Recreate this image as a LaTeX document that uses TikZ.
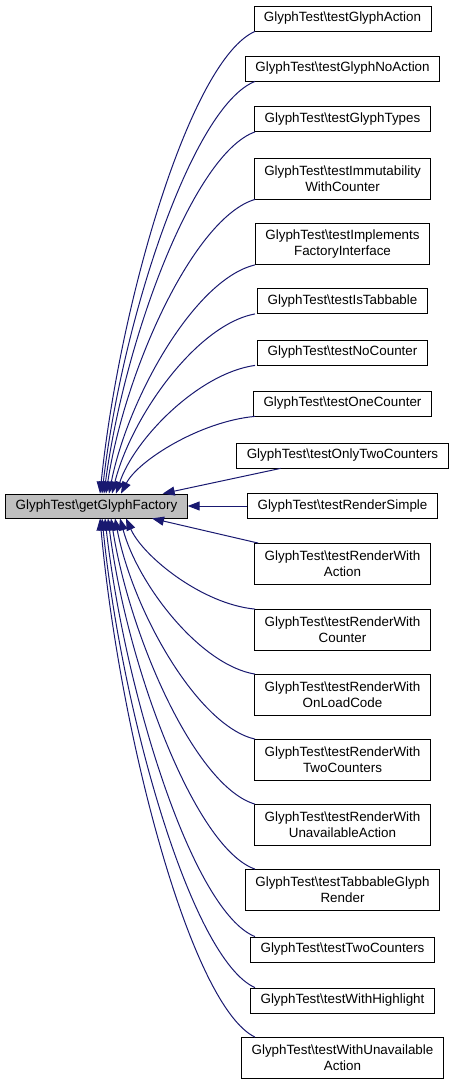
\documentclass[tikz,border=0pt]{standalone}
\usepackage{fontspec}
\setmainfont{Liberation Sans}
\usepackage{tikz}
\usetikzlibrary{arrows.meta,calc}
\definecolor{callerline}{RGB}{25,25,112}
\definecolor{focusfill}{RGB}{191,191,191}

\begin{document}
\begin{tikzpicture}[x=1pt,y=1pt,
    fn/.style={draw=black,fill=white,line width=0.8pt,inner xsep=10pt,inner ysep=0pt,
      minimum height=25pt,align=center,font=\fontsize{13.4}{16}\selectfont},
    fntwo/.style={fn,minimum height=41pt},
    focus/.style={fn,fill=focusfill,minimum height=24pt},
    call/.style={callerline,line width=1pt,-{Triangle[length=12pt,width=9pt]}}]
    \useasboundingbox (0,0) rectangle (455,-1085);
    % Called function
    \node[focus] (main) at (96.5,-506) {GlyphTest\textbackslash getGlyphFactory};
    % Callers
    \node[fn] (gaction) at (342.5,-18.5) {GlyphTest\textbackslash testGlyphAction};
    \node[fn] (gnoaction) at (342.5,-68.5) {GlyphTest\textbackslash testGlyphNoAction};
    \node[fn] (gtypes) at (342.5,-119) {GlyphTest\textbackslash testGlyphTypes};
    \node[fntwo] (immut) at (342.5,-178.5) {GlyphTest\textbackslash testImmutability\\WithCounter};
    \node[fntwo] (impl) at (342.5,-244) {GlyphTest\textbackslash testImplements\\FactoryInterface};
    \node[fn] (istab) at (342.5,-301) {GlyphTest\textbackslash testIsTabbable};
    \node[fn] (nocount) at (342.5,-352.5) {GlyphTest\textbackslash testNoCounter};
    \node[fn] (onecount) at (342.5,-403.5) {GlyphTest\textbackslash testOneCounter};
    \node[fn] (onlytwo) at (342.5,-455.5) {GlyphTest\textbackslash testOnlyTwoCounters};
    \node[fn] (rsimple) at (342.5,-506) {GlyphTest\textbackslash testRenderSimple};
    \node[fntwo] (raction) at (342.5,-564) {GlyphTest\textbackslash testRenderWith\\Action};
    \node[fntwo] (rcounter) at (342.5,-630) {GlyphTest\textbackslash testRenderWith\\Counter};
    \node[fntwo] (rload) at (342.5,-695) {GlyphTest\textbackslash testRenderWith\\OnLoadCode};
    \node[fntwo] (rtwo) at (342.5,-760) {GlyphTest\textbackslash testRenderWith\\TwoCounters};
    \node[fntwo] (runavail) at (342.5,-825) {GlyphTest\textbackslash testRenderWith\\UnavailableAction};
    \node[fntwo] (tabrender) at (342.5,-890) {GlyphTest\textbackslash testTabbableGlyph\\Render};
    \node[fn] (twocount) at (342.5,-949.5) {GlyphTest\textbackslash testTwoCounters};
    \node[fn] (highlight) at (342.5,-1000.5) {GlyphTest\textbackslash testWithHighlight};
    \node[fntwo] (wunavail) at (342.5,-1058) {GlyphTest\textbackslash testWithUnavailable\\Action};
    \coordinate (tap) at (255,0);
    % Edges from above
    \draw[call] (gaction.south -| tap) .. controls +(-64,-28) and +(20,194) .. ([xshift=3.5pt]main.north);
    \draw[call] (gnoaction.south -| tap) .. controls +(-63,-25) and +(20,173) .. ([xshift=5.5pt]main.north);
    \draw[call] (gtypes.south -| tap) .. controls +(-62,-22) and +(20,152) .. ([xshift=7.5pt]main.north);
    \draw[call] (immut.south -| tap) .. controls +(-61,-18) and +(19,124) .. ([xshift=9.5pt]main.north);
    \draw[call] (impl.south -| tap) .. controls +(-60,-14) and +(19,96) .. ([xshift=12.5pt]main.north);
    \draw[call] (istab.south -| tap) .. controls +(-59,-11) and +(19,76) .. ([xshift=15.5pt]main.north);
    \draw[call] (nocount.south -| tap) .. controls +(-57,-8) and +(18,54) .. ([xshift=19.5pt]main.north);
    \draw[call] (onecount.south -| tap) .. controls +(-55,-5) and +(17,33) .. ([xshift=24.5pt]main.north);
    \draw[call] ([xshift=-62pt]onlytwo.south) -- ([xshift=-25pt]main.north east);
    % Straight across
    \draw[call] (rsimple.west) -- (main.east);
    % Edges from below
    \draw[call] ([xshift=4pt]raction.north west) -- ([xshift=55.5pt]main.south);
    \draw[call] (rcounter.north -| tap) .. controls +(-53,5) and +(17,-38) .. ([xshift=29.5pt]main.south);
    \draw[call] (rload.north -| tap) .. controls +(-55,9) and +(18,-66) .. ([xshift=23.5pt]main.south);
    \draw[call] (rtwo.north -| tap) .. controls +(-57,13) and +(18,-93) .. ([xshift=18.5pt]main.south);
    \draw[call] (runavail.north -| tap) .. controls +(-59,17) and +(19,-120) .. ([xshift=14.5pt]main.south);
    \draw[call] (tabrender.north -| tap) .. controls +(-60,21) and +(19,-148) .. ([xshift=11.5pt]main.south);
    \draw[call] (twocount.north -| tap) .. controls +(-62,25) and +(20,-176) .. ([xshift=8.5pt]main.south);
    \draw[call] (highlight.north -| tap) .. controls +(-63,28) and +(20,-197) .. ([xshift=5.5pt]main.south);
    \draw[call] (wunavail.north -| tap) .. controls +(-64,31) and +(20,-218) .. ([xshift=3.5pt]main.south);
\end{tikzpicture}
\end{document}
